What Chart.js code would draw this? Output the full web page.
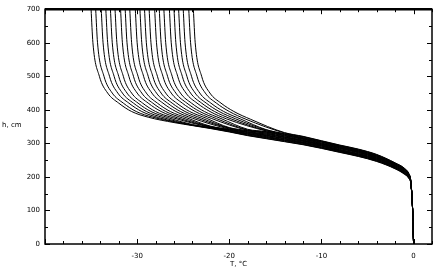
<!DOCTYPE html>
<html>
<head>
<meta charset="utf-8">
<script src="https://cdn.jsdelivr.net/npm/chart.js@4"></script>
<style>
  html, body { margin:0; padding:0; background:#fff; }
  #wrap { width:434px; height:268px; }
</style>
</head>
<body>
<div id="wrap"><canvas id="chart" width="434" height="268"></canvas></div>
<script>
// ===== Data: curves as [T, h] pairs, left to right =====
const curve01 = [[-35.0,700],[-34.8,600],[-34.1,500],[-33.2,450],[-32.0,420],[-30.6,395],[-28.8,378],[-26,362],[-24,353],[-22,344],[-20,334],[-18,323],[-16,314],[-14,305],[-12,296],[-10,285],[-8,273],[-6,261],[-4,246],[-2,224],[-1,208],[-0.5,195],[-0.3,180],[-0.1,100],[0,0]];
const curve02 = [[-34.5,700],[-34.3,600],[-33.6,500],[-32.7,450],[-31.5,420],[-30.1,395],[-28.3,378],[-24,354],[-22,345],[-20,335],[-18,324],[-16,315],[-14,306],[-12,297],[-10,286],[-8,274],[-6,262],[-4,247],[-2,225],[-1,209],[-0.5,196],[-0.3,180],[-0.1,100],[0,0]];
const curve03 = [[-33.9,700],[-33.7,600],[-33.0,500],[-32.1,450],[-30.9,420],[-29.5,395],[-27.7,377],[-24,354],[-22,346],[-20,336],[-18,325],[-16,317],[-14,308],[-12,298],[-10,287],[-8,275],[-6,263],[-4,248],[-2,226],[-1,210],[-0.5,196],[-0.3,181],[-0.1,100],[0,0]];
const curve04 = [[-33.4,700],[-33.2,600],[-32.5,500],[-31.6,450],[-30.4,420],[-29.0,395],[-27.2,377],[-24,355],[-22,347],[-20,337],[-18,327],[-16,318],[-14,309],[-12,300],[-10,288],[-8,276],[-6,264],[-4,249],[-2,227],[-1,211],[-0.5,197],[-0.3,181],[-0.1,100],[0,0]];
const curve05 = [[-32.9,700],[-32.7,600],[-32.0,500],[-31.1,450],[-29.9,420],[-28.5,395],[-26.7,377],[-24,356],[-22,347],[-20,338],[-18,328],[-16,320],[-14,310],[-12,301],[-10,289],[-8,277],[-6,265],[-4,250],[-2,227],[-1,211],[-0.5,198],[-0.3,182],[-0.1,100],[0,0]];
const curve06 = [[-32.4,700],[-32.2,600],[-31.5,500],[-30.6,450],[-29.4,420],[-28.0,395],[-26.2,377],[-22,348],[-20,339],[-18,329],[-16,321],[-14,311],[-12,302],[-10,291],[-8,278],[-6,266],[-4,251],[-2,228],[-1,212],[-0.5,198],[-0.3,182],[-0.1,100],[0,0]];
const curve07 = [[-31.8,700],[-31.6,600],[-30.9,500],[-30.0,450],[-28.8,420],[-27.4,395],[-25.6,376],[-22,349],[-20,340],[-18,330],[-16,323],[-14,313],[-12,303],[-10,292],[-8,279],[-6,267],[-4,252],[-2,229],[-1,213],[-0.5,199],[-0.3,182],[-0.1,100],[0,0]];
const curve08 = [[-31.3,700],[-31.1,600],[-30.4,500],[-29.5,450],[-28.3,420],[-26.9,395],[-25.1,376],[-22,350],[-20,341],[-18,332],[-16,324],[-14,314],[-12,304],[-10,293],[-8,280],[-6,268],[-4,253],[-2,230],[-1,214],[-0.5,200],[-0.3,183],[-0.1,100],[0,0]];
const curve09 = [[-30.8,700],[-30.6,600],[-29.9,500],[-29.0,450],[-27.8,420],[-26.4,395],[-24.6,376],[-22,351],[-20,342],[-18,333],[-16,325],[-14,315],[-12,306],[-10,294],[-8,281],[-6,269],[-4,254],[-2,231],[-1,215],[-0.5,200],[-0.3,183],[-0.1,100],[0,0]];
const curve10 = [[-30.2,700],[-30.0,600],[-29.3,500],[-28.4,450],[-27.2,420],[-25.8,395],[-24.0,375],[-20,343],[-18,334],[-16,327],[-14,317],[-12,307],[-10,295],[-8,282],[-6,270],[-4,255],[-2,232],[-1,216],[-0.5,201],[-0.3,183],[-0.1,100],[0,0]];
const curve11 = [[-29.7,700],[-29.5,600],[-28.8,500],[-27.9,450],[-26.7,420],[-25.3,395],[-23.5,375],[-20,345],[-18,335],[-16,328],[-14,318],[-12,308],[-10,296],[-8,284],[-6,272],[-4,256],[-2,233],[-1,217],[-0.5,202],[-0.3,184],[-0.1,100],[0,0]];
const curve12 = [[-29.2,700],[-29.0,600],[-28.3,500],[-27.4,450],[-26.2,420],[-24.8,395],[-23.0,375],[-20,346],[-18,337],[-16,330],[-14,319],[-12,309],[-10,297],[-8,285],[-6,273],[-4,257],[-2,233],[-1,217],[-0.5,202],[-0.3,184],[-0.1,100],[0,0]];
const curve13 = [[-28.7,700],[-28.5,600],[-27.8,500],[-26.9,450],[-25.7,420],[-24.3,395],[-22.5,375],[-20,347],[-18,338],[-16,331],[-14,320],[-12,310],[-10,298],[-8,286],[-6,274],[-4,258],[-2,234],[-1,218],[-0.5,203],[-0.3,185],[-0.1,100],[0,0]];
const curve14 = [[-28.1,700],[-27.9,600],[-27.2,500],[-26.3,450],[-25.1,420],[-23.7,395],[-21.9,374],[-18,339],[-16,333],[-14,322],[-12,312],[-10,299],[-8,287],[-6,275],[-4,259],[-2,235],[-1,219],[-0.5,204],[-0.3,185],[-0.1,100],[0,0]];
const curve15 = [[-27.6,700],[-27.4,600],[-26.7,500],[-25.8,450],[-24.6,420],[-23.2,395],[-21.4,374],[-18,340],[-16,334],[-14,323],[-12,313],[-10,300],[-8,288],[-6,276],[-4,260],[-2,236],[-1,220],[-0.5,204],[-0.3,185],[-0.1,100],[0,0]];
const curve16 = [[-27.1,700],[-26.9,600],[-26.2,500],[-25.3,450],[-24.1,420],[-22.7,395],[-20.9,374],[-18,342],[-16,335],[-14,324],[-12,314],[-10,301],[-8,289],[-6,277],[-4,261],[-2,237],[-1,221],[-0.5,205],[-0.3,186],[-0.1,100],[0,0]];
const curve17 = [[-26.5,700],[-26.3,600],[-25.6,500],[-24.7,450],[-23.5,420],[-22.1,395],[-20.3,373],[-16,337],[-14,326],[-12,315],[-10,303],[-8,290],[-6,278],[-4,262],[-2,238],[-1,222],[-0.5,206],[-0.3,186],[-0.1,100],[0,0]];
const curve18 = [[-26.0,700],[-25.8,600],[-25.1,500],[-24.2,450],[-23.0,420],[-21.6,395],[-19.8,373],[-16,338],[-14,327],[-12,316],[-10,304],[-8,291],[-6,279],[-4,263],[-2,239],[-1,223],[-0.5,206],[-0.3,186],[-0.1,100],[0,0]];
const curve19 = [[-25.5,700],[-25.3,600],[-24.6,500],[-23.7,450],[-22.5,420],[-21.1,395],[-19.3,373],[-16,340],[-14,328],[-12,317],[-10,305],[-8,292],[-6,280],[-4,264],[-2,239],[-1,223],[-0.5,207],[-0.3,187],[-0.1,100],[0,0]];
const curve20 = [[-25.0,700],[-24.8,600],[-24.1,500],[-23.2,450],[-22.0,420],[-20.6,395],[-18.8,373],[-16,341],[-14,329],[-12,319],[-10,306],[-8,293],[-6,281],[-4,265],[-2,240],[-1,224],[-0.5,208],[-0.3,187],[-0.1,100],[0,0]];
const curve21 = [[-24.4,700],[-24.2,600],[-23.5,500],[-22.6,450],[-21.4,420],[-20.0,395],[-18.2,372],[-14,331],[-12,320],[-10,307],[-8,294],[-6,282],[-4,266],[-2,241],[-1,225],[-0.5,208],[-0.3,188],[-0.1,100],[0,0]];
const curve22 = [[-23.9,700],[-23.7,600],[-23.0,500],[-22.1,450],[-20.9,420],[-19.5,395],[-17.7,372],[-14,332],[-12,321],[-10,308],[-8,295],[-6,283],[-4,267],[-2,242],[-1,226],[-0.5,209],[-0.3,188],[-0.1,100],[0,0]];

const curves = [curve01,curve02,curve03,curve04,curve05,curve06,curve07,curve08,curve09,curve10,curve11,
                curve12,curve13,curve14,curve15,curve16,curve17,curve18,curve19,curve20,curve21,curve22];

// ===== Axes =====
const xTicks = [-30, -20, -10, 0];
const yTicks = [0, 100, 200, 300, 400, 500, 600, 700];
const xTitle = 'T, °C';
const yTitle = 'h, cm';

const FONT = { family:'DejaVu Sans', size:7 };

// frame, inner ticks and axis titles
const framePlugin = {
  id:'frame',
  afterDraw(chart){
    const {ctx, chartArea:a, scales:{x, y}} = chart;
    ctx.save();
    ctx.strokeStyle = '#000';
    ctx.lineWidth = 1;
    ctx.beginPath();
    for (let v = -40; v <= 2; v += 2){
      const px = Math.round(x.getPixelForValue(v)) + 0.5;
      const len = v % 10 === 0 ? 5 : 3;
      ctx.moveTo(px, a.bottom); ctx.lineTo(px, a.bottom - len);
      ctx.moveTo(px, a.top);    ctx.lineTo(px, a.top + len);
    }
    for (let v = 0; v <= 700; v += 50){
      const py = Math.round(y.getPixelForValue(v)) + 0.5;
      const len = v % 100 === 0 ? 5 : 3;
      ctx.moveTo(a.left, py);  ctx.lineTo(a.left + len, py);
      ctx.moveTo(a.right, py); ctx.lineTo(a.right - len, py);
    }
    ctx.stroke();
    ctx.lineWidth = 1.5;
    ctx.strokeRect(a.left, a.top, a.right - a.left, a.bottom - a.top);
    ctx.lineWidth = 2.5;
    ctx.beginPath(); ctx.moveTo(a.left, a.top); ctx.lineTo(a.right, a.top); ctx.stroke();

    ctx.fillStyle = '#000';
    ctx.font = `${FONT.size}px ${FONT.family}`;
    ctx.textBaseline = 'middle';
    ctx.textAlign = 'left';
    ctx.fillText(yTitle, 2, 125);
    ctx.fillText(xTitle, 230, 264);
    ctx.restore();
  }
};

new Chart(document.getElementById('chart'), {
  type:'scatter',
  data:{
    datasets: curves.map(c => ({
      data: c.map(([t, h]) => ({x:t, y:h})),
      showLine:true, borderColor:'#000', borderWidth:1,
      pointRadius:0, cubicInterpolationMode:'monotone', fill:false
    }))
  },
  options:{
    responsive:false, animation:false,
    layout:{ padding:{ top:5, right:2, left:0, bottom:0 } },
    plugins:{ legend:{ display:false }, tooltip:{ enabled:false } },
    scales:{
      x:{
        type:'linear', min:-40, max:2,
        afterBuildTicks: s => { s.ticks = xTicks.map(v => ({value:v})); },
        afterFit: s => { s.height = 24; },
        grid:{ display:false, drawTicks:false }, border:{ display:false },
        ticks:{ font:FONT, color:'#000', padding:8, maxRotation:0 }
      },
      y:{
        type:'linear', min:0, max:700,
        afterBuildTicks: s => { s.ticks = yTicks.map(v => ({value:v})); },
        afterFit: s => { s.width = 45; },
        grid:{ display:false, drawTicks:false }, border:{ display:false },
        ticks:{ font:FONT, color:'#000', padding:5 }
      }
    }
  },
  plugins:[framePlugin]
});
</script>
</body>
</html>
